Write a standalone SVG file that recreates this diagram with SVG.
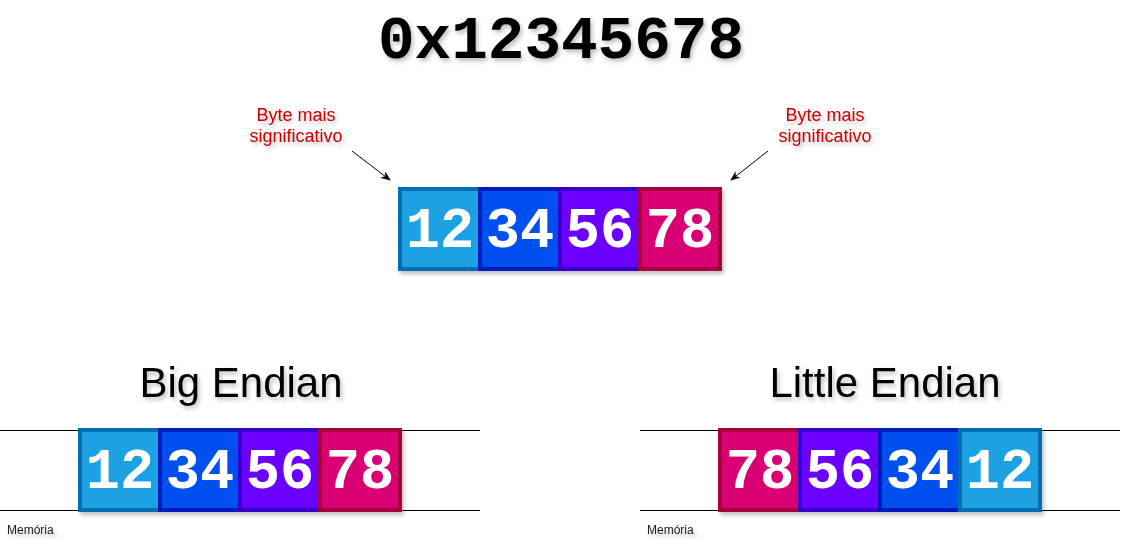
<svg xmlns="http://www.w3.org/2000/svg" width="1134" height="553" viewBox="0 0 1134 553">
<defs>
<filter id="sh" x="-20%" y="-20%" width="140%" height="140%">
<feDropShadow dx="2" dy="3" stdDeviation="2" flood-color="#000" flood-opacity="0.25"/>
</filter>
<marker id="ah" markerWidth="10" markerHeight="8" refX="9" refY="4" orient="auto" markerUnits="userSpaceOnUse">
<path d="M0,0 L10,4 L0,8 L3,4 Z" fill="#000"/>
</marker>
<style>
.b{stroke-width:4;}
.c1{fill:#1ba1e2;stroke:#006eaf;}
.c2{fill:#0050ef;stroke:#001dbc;}
.c3{fill:#6a00ff;stroke:#3700cc;}
.c4{fill:#d80073;stroke:#a50040;}
.num{font-family:"Liberation Mono","Courier New",monospace;font-weight:bold;font-size:57px;fill:#fff;text-anchor:middle;}
.red{font-family:"Liberation Sans",Arial,sans-serif;font-size:18px;fill:#cc0000;text-anchor:middle;}
.hd{font-family:"Liberation Sans",Arial,sans-serif;font-size:42px;fill:#000;text-anchor:middle;}
.mem{font-family:"Liberation Sans",Arial,sans-serif;font-size:12px;fill:#222;}
.ln{stroke:#000;stroke-width:1;fill:none;}
</style>
</defs>
<rect width="1134" height="553" fill="#fff"/>
<g id="title" filter="url(#sh)">
<text x="561" y="58" font-family="'Liberation Mono','Courier New',monospace" font-weight="bold" font-size="61" text-anchor="middle" fill="#000">0x12345678</text>
</g>
<g id="label-left" filter="url(#sh)">
<text class="red" x="296" y="121">Byte mais</text>
<text class="red" x="296" y="142">significativo</text>
</g>
<g id="label-right" filter="url(#sh)">
<text class="red" x="825" y="121">Byte mais</text>
<text class="red" x="825" y="142">significativo</text>
</g>
<g id="connectors">
<line class="ln" x1="352" y1="151" x2="390" y2="180" marker-end="url(#ah)"/>
<line class="ln" x1="768" y1="151" x2="731" y2="180" marker-end="url(#ah)"/>
<line class="ln" x1="0" y1="430.5" x2="480" y2="430.5"/>
<line class="ln" x1="0" y1="510.5" x2="480" y2="510.5"/>
<line class="ln" x1="640" y1="430.5" x2="1120" y2="430.5"/>
<line class="ln" x1="640" y1="510.5" x2="1120" y2="510.5"/>
</g>
<g id="top-bytes" filter="url(#sh)">
<g id="t12"><rect class="b c1" x="400" y="189" width="80" height="80"/><text class="num" x="440" y="247">12</text></g>
<g id="t34"><rect class="b c2" x="480" y="189" width="80" height="80"/><text class="num" x="520" y="247">34</text></g>
<g id="t56"><rect class="b c3" x="560" y="189" width="80" height="80"/><text class="num" x="600" y="247">56</text></g>
<g id="t78"><rect class="b c4" x="640" y="189" width="80" height="80"/><text class="num" x="680" y="247">78</text></g>
</g>
<g id="big-endian-title" filter="url(#sh)"><text class="hd" x="241" y="397">Big Endian</text></g>
<g id="little-endian-title" filter="url(#sh)"><text class="hd" x="885" y="397">Little Endian</text></g>
<g id="big-bytes" filter="url(#sh)">
<g id="b12"><rect class="b c1" x="80" y="430" width="80" height="80"/><text class="num" x="120" y="488">12</text></g>
<g id="b34"><rect class="b c2" x="160" y="430" width="80" height="80"/><text class="num" x="200" y="488">34</text></g>
<g id="b56"><rect class="b c3" x="240" y="430" width="80" height="80"/><text class="num" x="280" y="488">56</text></g>
<g id="b78"><rect class="b c4" x="320" y="430" width="80" height="80"/><text class="num" x="360" y="488">78</text></g>
</g>
<g id="little-bytes" filter="url(#sh)">
<g id="l78"><rect class="b c4" x="720" y="430" width="80" height="80"/><text class="num" x="760" y="488">78</text></g>
<g id="l56"><rect class="b c3" x="800" y="430" width="80" height="80"/><text class="num" x="840" y="488">56</text></g>
<g id="l34"><rect class="b c2" x="880" y="430" width="80" height="80"/><text class="num" x="920" y="488">34</text></g>
<g id="l12"><rect class="b c1" x="960" y="430" width="80" height="80"/><text class="num" x="1000" y="488">12</text></g>
</g>
<g id="mem-left" filter="url(#sh)"><text class="mem" x="7" y="534">Memória</text></g>
<g id="mem-right" filter="url(#sh)"><text class="mem" x="647" y="534">Memória</text></g>
</svg>
